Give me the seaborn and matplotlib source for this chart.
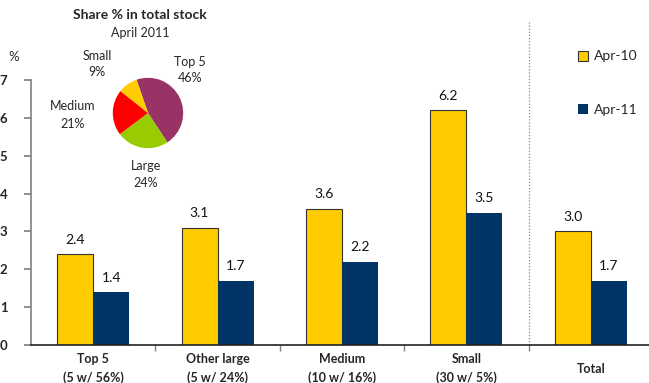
import matplotlib
matplotlib.use("Agg")
import matplotlib.pyplot as plt
import matplotlib.transforms as mtransforms
import seaborn as sns
import pandas as pd
from matplotlib.patches import Patch

sns.set_theme(style="white")
plt.rcParams['font.family'] = ['Lato', 'DejaVu Sans']

# Bar chart data by bank group
categories = ["Top 5\n(5 w/ 56%)", "Other large\n(5 w/ 24%)", "Medium\n(10 w/ 16%)",
              "Small\n(30 w/ 5%)", "Total"]
apr10 = [2.4, 3.1, 3.6, 6.2, 3.0]
apr11 = [1.4, 1.7, 2.2, 3.5, 1.7]
series_names = ["Apr-10", "Apr-11"]
y_ticks = [0, 1, 2, 3, 4, 5, 6, 7]

# Pie data: share in total stock, April 2011
pie_labels = ["Top 5", "Large", "Medium", "Small"]
pie_shares = [46, 24, 21, 9]
pie_colors = ["#993366", "#99CC00", "#FF0000", "#FFCC00"]

df = pd.DataFrame({
    "category": categories * 2,
    "series": [series_names[0]] * len(categories) + [series_names[1]] * len(categories),
    "value": apr10 + apr11,
})

W, H = 649, 383
fig = plt.figure(figsize=(W / 100, H / 100), dpi=100)
ax = fig.add_axes([31 / W, 1 - 345 / H, 622 / W, 265 / H])

yellow, navy = "#FFCC00", "#003366"
sns.barplot(data=df, x="category", y="value", hue="series", order=categories,
            hue_order=series_names, palette=[yellow, navy], width=0.58,
            saturation=1, ax=ax, legend=False)

# outline on the yellow bars only
for p in ax.containers[0]:
    p.set_edgecolor("#333333")
    p.set_linewidth(0.8)
for p in ax.containers[1]:
    p.set_edgecolor("none")

for c in ax.containers:
    ax.bar_label(c, fmt="%.1f", padding=6, fontsize=10, color="#111111")

ax.set_xlim(-0.5, 4.5)
ax.set_ylim(0, 7)
ax.set_yticks(y_ticks)
ax.set_yticklabels([str(t) for t in y_ticks], fontweight="bold", fontsize=9.5)
ax.set_xlabel("")
ax.set_ylabel("")

# category labels without ticks at their centres; boundary ticks instead
ax.set_xticks(range(len(categories)))
ax.set_xticklabels(categories, fontweight="bold", fontsize=9, linespacing=1.55)
ax.tick_params(axis="x", length=0, pad=6)
ax.set_xticks([0.5, 1.5, 2.5, 3.5], minor=True)
ax.tick_params(axis="x", which="minor", length=4, color="#808080", direction="out", bottom=True)
ax.tick_params(axis="y", length=5, color="#808080", direction="out", left=True, pad=12)

# single-line "Total" label sits midway between the two-line labels
total_lbl = ax.get_xticklabels()[-1]
total_lbl.set_transform(total_lbl.get_transform() +
                        mtransforms.ScaledTranslation(0, -7 / 72, fig.dpi_scale_trans))

for s in ["top", "right"]:
    ax.spines[s].set_visible(False)
ax.spines["left"].set_color("#808080")
ax.spines["left"].set_linewidth(1.2)
ax.spines["bottom"].set_color("#222222")
ax.spines["bottom"].set_linewidth(1.2)

# dotted separator before the total
ax.axvline(3.5, ymin=0, ymax=1.22, clip_on=False, ls=(0, (1, 1.5)),
           color="#888888", lw=0.9)

fig.text(14 / W, 1 - 57 / H, "%", fontsize=9.5, ha="center", va="center")

# legend
handles = [Patch(facecolor=yellow, edgecolor="#333333", linewidth=0.8),
           Patch(facecolor=navy, edgecolor="none")]
ax.legend(handles, series_names, loc="upper left",
          bbox_to_anchor=(565 / W, 1 - 38 / H), bbox_transform=fig.transFigure,
          frameon=False, fontsize=10, handlelength=0.75, handleheight=0.75,
          handletextpad=0.4, labelspacing=3.0)

# pie inset
pax = fig.add_axes([104 / W, 1 - 157 / H, 88 / W, 88 / H])
pax.pie(pie_shares, colors=pie_colors, startangle=109, counterclock=False,
        wedgeprops=dict(linewidth=0))
pax.set_aspect("equal")

fig.text(140 / W, 1 - 15 / H, "Share % in total stock", fontsize=10,
         fontweight="bold", ha="center", va="center")
fig.text(140 / W, 1 - 33 / H, "April 2011", fontsize=9, ha="center", va="center")

label_pos = {"Top 5": (190, 70), "Large": (146, 175), "Medium": (73, 115), "Small": (97, 64)}
for name, share in zip(pie_labels, pie_shares):
    x, y = label_pos[name]
    fig.text(x / W, 1 - y / H, f"{name}\n{share}%", fontsize=9, ha="center",
             va="center", linespacing=1.5)

fig.savefig("out.png", dpi=100)
